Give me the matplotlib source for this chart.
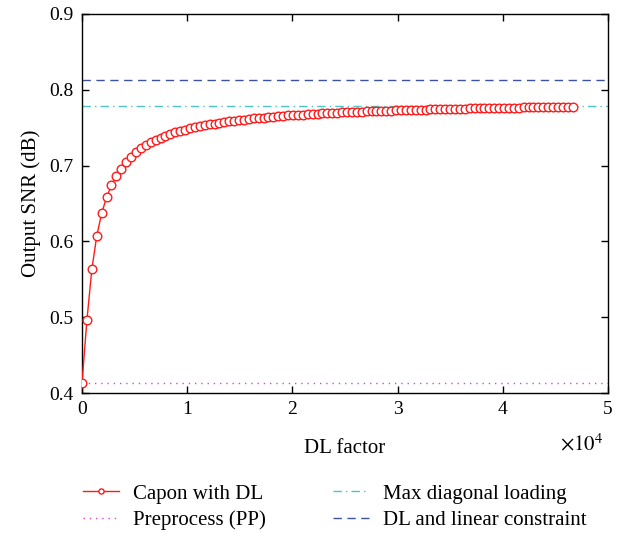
import numpy as np
import matplotlib
matplotlib.use("Agg")
import matplotlib.pyplot as plt

plt.rcParams['font.family'] = ['Liberation Serif', 'DejaVu Serif']
plt.rcParams['mathtext.fontset'] = 'stix'

# DL factor grid (101 evenly spaced loading values)
dl_factor = np.linspace(0, 46650, 101)

capon_snr = [
    0.413, 0.496, 0.563, 0.607, 0.637, 0.658, 0.674, 0.686, 0.696, 0.705,
    0.712, 0.7175, 0.7227, 0.7269, 0.7306, 0.7339, 0.7368, 0.7394, 0.7417, 0.7438,
    0.7457, 0.7475, 0.7491, 0.7506, 0.7520, 0.7532, 0.7544, 0.7555, 0.7566, 0.7575,
    0.7584, 0.7593, 0.7601, 0.7608, 0.7615, 0.7622, 0.7628, 0.7634, 0.7640, 0.7646,
    0.7651, 0.7656, 0.7661, 0.7665, 0.7669, 0.7674, 0.7678, 0.7681, 0.7685, 0.7689,
    0.7692, 0.7695, 0.7698, 0.7701, 0.7704, 0.7707, 0.7710, 0.7712, 0.7715, 0.7717,
    0.7720, 0.7722, 0.7724, 0.7726, 0.7729, 0.7731, 0.7733, 0.7734, 0.7736, 0.7738,
    0.7740, 0.7742, 0.7743, 0.7745, 0.7746, 0.7748, 0.7750, 0.7751, 0.7752, 0.7754,
    0.7755, 0.7756, 0.7758, 0.7759, 0.7760, 0.7761, 0.7763, 0.7764, 0.7765, 0.7766,
    0.7767, 0.7768, 0.7769, 0.7770, 0.7771, 0.7772, 0.7773, 0.7774, 0.7775, 0.7776,
    0.7777,
]

line_x = [0, 50000]
pp_snr = [0.413, 0.413]
max_dl_snr = [0.778, 0.778]
dl_lc_snr = [0.813, 0.813]

x_ticks = [0, 10000, 20000, 30000, 40000, 50000]
x_tick_labels = ['0', '1', '2', '3', '4', '5']
y_ticks = [0.4, 0.5, 0.6, 0.7, 0.8, 0.9]
y_tick_labels = ['0.4', '0.5', '0.6', '0.7', '0.8', '0.9']

fig = plt.figure(figsize=(6.22, 5.33), dpi=100)
ax = fig.add_axes([82/622, 1-393/533, (608-82)/622, (393-14)/533])

ax.plot(dl_factor, capon_snr, color='#ff1a1a', lw=1.0, marker='o', ms=6.2,
        mfc='white', mec='#ff1a1a', mew=1.0, label='Capon with DL', zorder=3)
ax.plot(line_x, pp_snr, color='#d946c8', lw=1.0, ls=(0, (1, 3.5)),
        label='Preprocess (PP)')
ax.plot(line_x, max_dl_snr, color='#4cc4c4', lw=1.0, ls=(0, (6, 3, 1, 3)),
        label='Max diagonal loading')
ax.plot(line_x, dl_lc_snr, color='#3a52a0', lw=1.0, ls=(0, (6, 4)),
        label='DL and linear constraint')

ax.set_xlim(0, 50000)
ax.set_ylim(0.4, 0.9)
ax.set_xticks(x_ticks)
ax.set_xticklabels(x_tick_labels)
ax.set_yticks(y_ticks)
ax.set_yticklabels(y_tick_labels)
ax.tick_params(direction='in', top=True, right=True, labelsize=14, length=5,
               width=1.0, pad=6)
for s in ax.spines.values():
    s.set_linewidth(1.0)

ax.set_xlabel('DL factor', fontsize=15, labelpad=15)
ax.set_ylabel('Output SNR (dB)', fontsize=15, labelpad=6)
fig.text(603/622, 1-445/533, r'$\times10^4$', ha='right', va='center', fontsize=15)

leg = fig.legend(loc='upper left', bbox_to_anchor=(83/622, 1-484/533), ncol=2,
                 frameon=False, fontsize=15, handlelength=1.75, numpoints=1,
                 markerscale=0.6, columnspacing=3.2, labelspacing=0.33,
                 handletextpad=0.65, borderpad=0, borderaxespad=0)

fig.savefig('out.png', dpi=100)
